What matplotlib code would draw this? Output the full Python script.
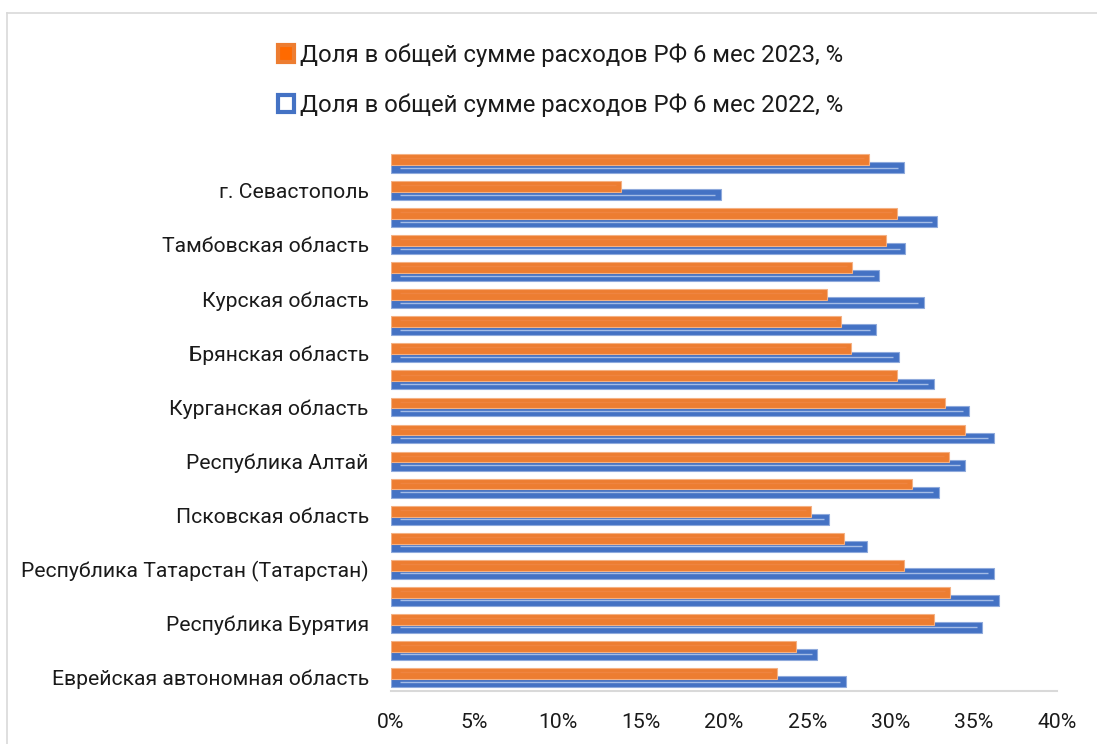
import matplotlib
matplotlib.use("Agg")
import matplotlib.pyplot as plt
from matplotlib.patches import Patch
from matplotlib.lines import Line2D

plt.rcParams['font.family'] = ['Roboto', 'DejaVu Sans']

# categories from bottom to top (only every other one is labelled on the chart)
regions = ["Еврейская автономная область", "", "Республика Бурятия", "",
           "Республика Татарстан (Татарстан)", "", "Псковская область", "",
           "Республика Алтай", "", "Курганская область", "", "Брянская область", "",
           "Курская область", "", "Тамбовская область", "", "г. Севастополь", ""]
share_2023 = [23.2, 24.3, 32.6, 33.6, 30.8, 27.2, 25.2, 31.3, 33.5, 34.5,
              33.3, 30.4, 27.6, 27.0, 26.2, 27.7, 29.7, 30.4, 13.8, 28.7]
share_2022 = [27.3, 25.6, 35.5, 36.5, 36.2, 28.6, 26.3, 32.9, 34.5, 36.2,
              34.7, 32.6, 30.5, 29.1, 32.0, 29.3, 30.9, 32.8, 19.8, 30.8]
xticks = [0, 5, 10, 15, 20, 25, 30, 35, 40]

label_2023 = "Доля в общей сумме расходов РФ 6 мес 2023, %"
label_2022 = "Доля в общей сумме расходов РФ 6 мес 2022, %"

ORANGE = "#ED7D31"
BLUE = "#4472C4"

fig = plt.figure(figsize=(10.97, 7.44), dpi=100)
ax = fig.add_axes([391 / 1097, 1 - 691 / 744, 666 / 1097, 541 / 744])

pos = list(range(len(regions)))
y_blue = [p - 0.15 for p in pos]
y_orange = [p + 0.15 for p in pos]

ax.barh(y_blue, share_2022, height=0.4, color=BLUE, edgecolor="#8FAADC",
        linewidth=0.8, zorder=2)
# thin light stripe inside the 2022 bars
ax.hlines(y_blue, 0.55, [v - 0.32 for v in share_2022], color="#A4BCE6",
          linewidth=1, zorder=3)
ax.barh(y_orange, share_2023, height=0.4, color=ORANGE, edgecolor="#F4B183",
        linewidth=0.8, zorder=4)
ax.hlines([y + 0.05 for y in y_orange], 0.55, [v - 0.3 for v in share_2023],
          color="#EF8440", linewidth=1, zorder=5)

ax.set_xlim(0, 40)
ax.set_ylim(-0.5, len(regions) - 0.5)
ax.set_yticks(pos)
ax.set_yticklabels(regions)
ax.set_xticks(xticks)
ax.set_xticklabels([f"{t}%" for t in xticks])
ax.tick_params(axis="y", length=0, pad=16, labelsize=15.2, labelcolor="#1A1A1A")
ax.tick_params(axis="x", length=0, pad=15.5, labelsize=15.2, labelcolor="#1A1A1A")

for side in ["left", "top", "right"]:
    ax.spines[side].set_visible(False)
ax.spines["bottom"].set_color("#D9D9D9")
ax.spines["bottom"].set_linewidth(1.5)

handles = [Patch(facecolor="#FF6A00", edgecolor=ORANGE, linewidth=3),
           Patch(facecolor="white", edgecolor=BLUE, linewidth=3)]
fig.legend(handles, [label_2023, label_2022], loc="center",
           bbox_to_anchor=(0.511, 1 - 80 / 744), frameon=False, fontsize=17.2,
           handlelength=0.7, handleheight=0.7, handletextpad=0.25,
           labelspacing=1.1, labelcolor="#1A1A1A")

# chart frame
fig.add_artist(Line2D([7 / 1097, 1], [1 - 13 / 744] * 2, color="#D9D9D9", lw=1.2))
fig.add_artist(Line2D([7 / 1097] * 2, [0, 1 - 13 / 744], color="#D9D9D9", lw=1.2))

fig.savefig("out.png", dpi=100)
